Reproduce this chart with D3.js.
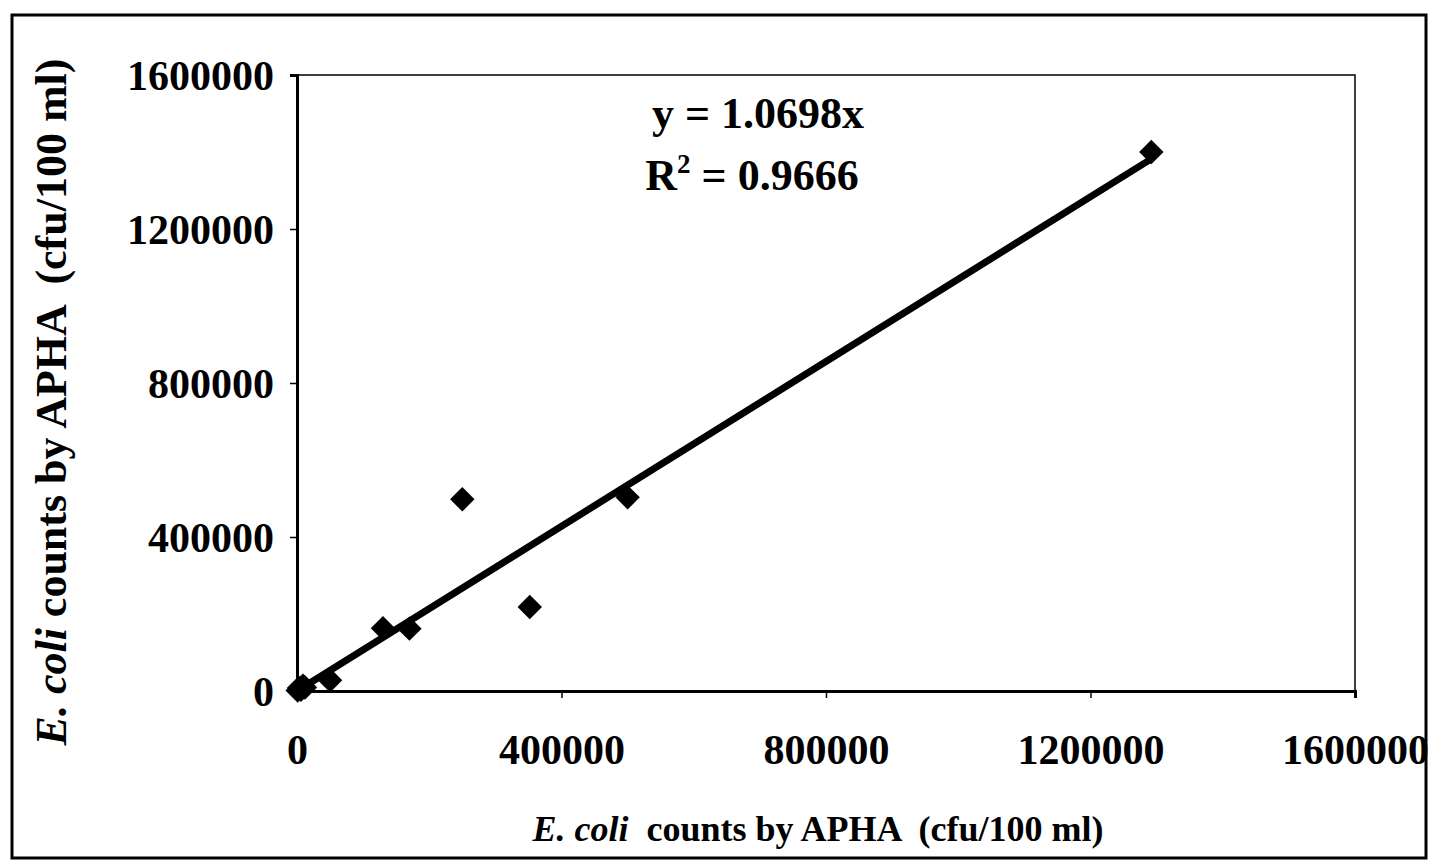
<!DOCTYPE html>
<html>
<head>
<meta charset="utf-8">
<script src="https://cdn.jsdelivr.net/npm/d3@7"></script>
<style>
  html, body { margin: 0; padding: 0; background: #fff; }
  svg { display: block; }
  text { font-family: "Liberation Serif", "Times New Roman", serif; font-weight: bold; fill: #000; }
</style>
</head>
<body>
<svg id="chart" width="1429" height="868"></svg>
<script>
// E. coli counts: method under test (y) vs. APHA reference method (x), cfu/100 ml
const xValues = [1000, 3000, 6000, 9000, 12000, 50000, 130000, 170000, 250000, 352000, 500000, 1292000];
const yValues = [1000, 8000, 3000, 14000, 9000, 28000, 163000, 162000, 498000, 218000, 503000, 1400000];
const xTicks = [0, 400000, 800000, 1200000, 1600000];
const yTicks = [0, 400000, 800000, 1200000, 1600000];
const slope = 1.0698;
const rSquared = "0.9666";

const svg = d3.select("#chart");

// outer frame
svg.append("rect")
  .attr("x", 12).attr("y", 15)
  .attr("width", 1414).attr("height", 843)
  .attr("fill", "none").attr("stroke", "#000").attr("stroke-width", 3);

const plot = { left: 297, right: 1355, top: 75, bottom: 691 };

const x = d3.scaleLinear().domain([0, 1600000]).range([plot.left, plot.right]);
const y = d3.scaleLinear().domain([0, 1600000]).range([plot.bottom, plot.top]);

// plot area border
svg.append("rect")
  .attr("x", plot.left).attr("y", plot.top)
  .attr("width", plot.right - plot.left).attr("height", plot.bottom - plot.top)
  .attr("fill", "none").attr("stroke", "#000").attr("stroke-width", 1.5);

// axes
const xAxis = svg.append("g")
  .attr("transform", `translate(0,${plot.bottom})`)
  .call(d3.axisBottom(x).tickValues(xTicks).tickSize(7).tickPadding(36).tickFormat(d3.format("d")));
const yAxis = svg.append("g")
  .attr("transform", `translate(${plot.left},0)`)
  .call(d3.axisLeft(y).tickValues(yTicks).tickSize(7).tickPadding(16).tickFormat(d3.format("d")));

[xAxis, yAxis].forEach(g => {
  g.select(".domain").attr("stroke", "#000").attr("stroke-width", 3);
  g.selectAll(".tick line").attr("stroke", "#000").attr("stroke-width", 1.5);
  g.selectAll(".tick text")
    .attr("font-family", "Liberation Serif, Times New Roman, serif")
    .attr("font-weight", "bold")
    .attr("font-size", 42)
    .attr("fill", "#000");
});
yAxis.selectAll(".tick text").attr("dy", "0.35em");

// linear fit through origin, drawn over the observed x range
const xMax = d3.max(xValues);
svg.append("line")
  .attr("x1", x(0)).attr("y1", y(0))
  .attr("x2", x(xMax)).attr("y2", y(slope * xMax))
  .attr("stroke", "#000").attr("stroke-width", 7);

// diamond markers
const diamond = d3.symbol().type(d3.symbolDiamond2).size(380);
svg.append("g").selectAll("path")
  .data(xValues.map((v, i) => [v, yValues[i]]))
  .join("path")
  .attr("d", diamond)
  .attr("transform", d => `translate(${x(d[0])},${y(d[1])})`)
  .attr("fill", "#000");

// regression equation
const eq = svg.append("g");
eq.append("text")
  .attr("x", 758).attr("y", 128)
  .attr("text-anchor", "middle")
  .attr("font-size", 44)
  .text(`y = ${slope}x`);
const r2 = eq.append("text")
  .attr("x", 752).attr("y", 190)
  .attr("text-anchor", "middle")
  .attr("font-size", 44);
r2.append("tspan").text("R");
r2.append("tspan").attr("dy", -17).attr("font-size", 27).text("2");
r2.append("tspan").attr("dy", 17).text(` = ${rSquared}`);

// x axis title
const xt = svg.append("text")
  .attr("x", 818).attr("y", 841)
  .attr("text-anchor", "middle")
  .attr("font-size", 36);
xt.append("tspan").attr("font-style", "italic").text("E. coli");
xt.append("tspan").text("\u00a0 counts by APHA \u00a0(cfu/100 ml)");

// y axis title
const yt = svg.append("text")
  .attr("transform", "translate(66,402) rotate(-90)")
  .attr("text-anchor", "middle")
  .attr("font-size", 44);
yt.append("tspan").attr("font-style", "italic").text("E. coli");
yt.append("tspan").text(" counts by APHA \u00a0(cfu/100 ml)");
</script>
</body>
</html>
